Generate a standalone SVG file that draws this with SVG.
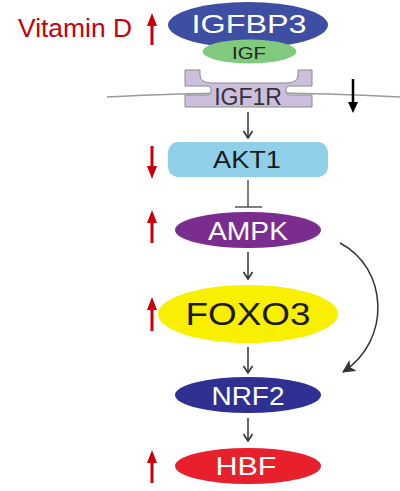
<svg xmlns="http://www.w3.org/2000/svg" width="400" height="491" viewBox="0 0 400 491">
<defs>
<style>
.t{font-family:"Liberation Sans",Arial,sans-serif;text-anchor:middle}
.w{fill:#ffffff}
.k{fill:#1a1a1a}
.red{stroke:#c8000a;stroke-width:3;fill:none}
.con{stroke:#333;stroke-width:1.5;fill:none}
</style>
<marker id="ah" viewBox="0 0 12 12" refX="11" refY="6" markerWidth="12" markerHeight="12" markerUnits="userSpaceOnUse" orient="auto">
<path d="M4,1.5 L11,6 L4,10.5" fill="none" stroke="#333" stroke-width="1.6"/>
</marker>
<marker id="curveh" viewBox="0 0 12 12" refX="11" refY="6" markerWidth="13" markerHeight="13" markerUnits="userSpaceOnUse" orient="auto">
<path d="M0,0 L12,6 L0,12 L3,6 Z" fill="#333"/>
</marker>
</defs>
<rect width="400" height="491" fill="#ffffff"/>

<path id="membrane" d="M107,97 Q253,89 400,97" fill="none" stroke="#9a9a9a" stroke-width="1.5"/>

<g id="vitaminD">
<text class="t" x="75" y="37" font-size="26" fill="#c8000a" textLength="114" lengthAdjust="spacingAndGlyphs">Vitamin D</text>
<line class="red" x1="152" y1="45" x2="152" y2="25"/>
<path d="M147,26 L152,13 L157,26 Z" fill="#c8000a"/>
</g>

<g id="IGFBP3">
<ellipse cx="248" cy="25" rx="80" ry="23" fill="#3e4ea2"/>
<text class="t w" x="249" y="33" font-size="25" textLength="115" lengthAdjust="spacingAndGlyphs">IGFBP3</text>
</g>

<g id="IGF">
<ellipse cx="249.5" cy="51.5" rx="47" ry="12" fill="#7fca7c"/>
<text class="t" x="249" y="58.5" font-size="17" fill="#222" textLength="34" lengthAdjust="spacingAndGlyphs">IGF</text>
</g>

<g id="IGF1R">
<path d="M185,70 L200,70 L200,75 Q200,83 212,83 L286,83 Q298,83 298,75 L298,70 L312,70 L312,86 L290,86 Q286,86 286,90.5 Q286,95 290,95 L312,95 L312,107 L185,107 L185,95 L207,95 Q211,95 211,90.5 Q211,86 207,86 L185,86 Z" fill="#cbbfdd" stroke="#8a8a8a" stroke-width="1"/>
<text class="t" x="248" y="105" font-size="23" fill="#333">IGF1R</text>
</g>

<g id="downArrowIGF1R">
<line x1="353" y1="79" x2="353" y2="103" stroke="#000" stroke-width="2.5"/>
<path d="M348,102 L353,113 L358,102 Z" fill="#000"/>
</g>

<g id="AKT1">
<rect x="168" y="142" width="160" height="35" rx="10" fill="#8fd0e8"/>
<text class="t k" x="247" y="168" font-size="24" textLength="68" lengthAdjust="spacingAndGlyphs">AKT1</text>
<line class="red" x1="152" y1="146" x2="152" y2="167"/>
<path d="M147,166 L152,179 L157,166 Z" fill="#c8000a"/>
</g>

<g id="AMPK">
<ellipse cx="248" cy="230" rx="73" ry="18" fill="#7a2d8e"/>
<text class="t w" x="248" y="240" font-size="26" textLength="80" lengthAdjust="spacingAndGlyphs">AMPK</text>
<line class="red" x1="152" y1="243" x2="152" y2="222"/>
<path d="M147,223 L152,210 L157,223 Z" fill="#c8000a"/>
</g>

<g id="FOXO3">
<ellipse cx="248" cy="314" rx="90" ry="29" fill="#f8f000"/>
<text class="t k" x="248" y="325" font-size="32" textLength="125" lengthAdjust="spacingAndGlyphs">FOXO3</text>
<line class="red" x1="152" y1="331" x2="152" y2="309"/>
<path d="M147,310 L152,297 L157,310 Z" fill="#c8000a"/>
</g>

<g id="NRF2">
<ellipse cx="248" cy="395" rx="73" ry="18" fill="#2e3192"/>
<text class="t w" x="248" y="405" font-size="25" textLength="73" lengthAdjust="spacingAndGlyphs">NRF2</text>
</g>

<g id="HBF">
<ellipse cx="248" cy="466" rx="73" ry="18" fill="#e8202c"/>
<text class="t w" x="246" y="475" font-size="25" textLength="61" lengthAdjust="spacingAndGlyphs">HBF</text>
<line class="red" x1="152" y1="483" x2="152" y2="462"/>
<path d="M147,463 L152,450 L157,463 Z" fill="#c8000a"/>
</g>

<g id="connectors">
<line class="con" x1="248" y1="112" x2="248" y2="138" marker-end="url(#ah)"/>
<line x1="248" y1="180" x2="248" y2="207" stroke="#555" stroke-width="1.5"/>
<line x1="235" y1="207" x2="262" y2="207" stroke="#555" stroke-width="1.5"/>
<line class="con" x1="248" y1="252" x2="248" y2="279" marker-end="url(#ah)"/>
<line class="con" x1="248" y1="347" x2="248" y2="373" marker-end="url(#ah)"/>
<line class="con" x1="248" y1="418" x2="248" y2="441" marker-end="url(#ah)"/>
<path class="con" d="M340,243 C388,268 392,340 343,372" marker-end="url(#curveh)"/>
</g>
</svg>
